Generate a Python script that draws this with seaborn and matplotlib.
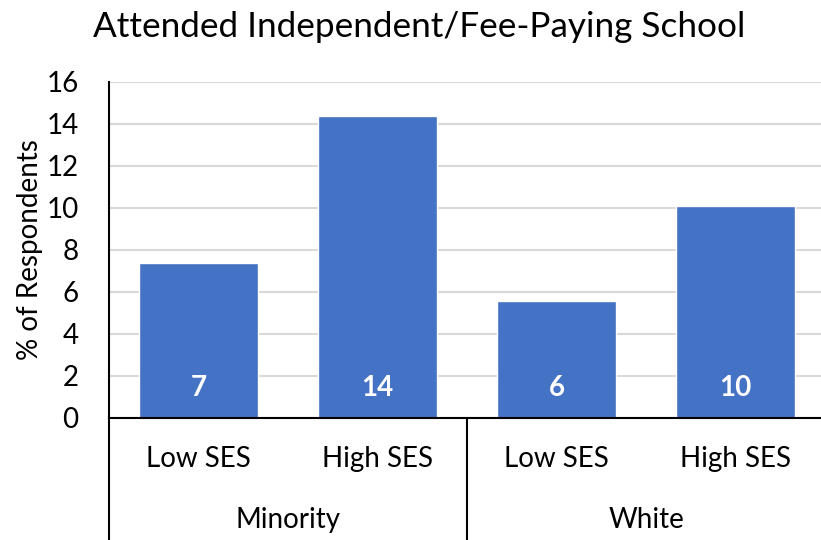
import matplotlib
matplotlib.use("Agg")
import matplotlib.pyplot as plt
import seaborn as sns
import pandas as pd

groups = ["Minority", "Minority", "White", "White"]
ses = ["Low SES", "High SES", "Low SES", "High SES"]
values = [7.37, 14.38, 5.57, 10.1]
value_labels = ["7", "14", "6", "10"]
group_names = ["Minority", "White"]
yticks = [0, 2, 4, 6, 8, 10, 12, 14, 16]
title = "Attended Independent/Fee-Paying School"
ylabel = "% of Respondents"

sns.set_style("white")
FONT = ["Lato", "DejaVu Sans"]
plt.rcParams["font.family"] = FONT
plt.rcParams["text.color"] = "black"
plt.rcParams["ytick.color"] = "black"
plt.rcParams["ytick.labelcolor"] = "black"

W, H = 821, 540
fig = plt.figure(figsize=(W / 100, H / 100), dpi=100)
ax = fig.add_axes([109 / W, (H - 418) / H, 716 / W, 336 / H])

df = pd.DataFrame({"pos": list(range(len(values))), "value": values,
                   "ses": ses, "group": groups})
sns.barplot(data=df, x="pos", y="value", color="#4472C4", width=0.665,
            saturation=1, ax=ax, native_scale=True)

ax.set_xlim(-0.5, len(values) - 0.5)
ax.set_ylim(0, 16)
ax.set_yticks(yticks)
ax.set_yticklabels([str(t) for t in yticks], fontsize=20, color="black")
ax.tick_params(axis="y", length=0, pad=22)
ax.set_xticks([])
ax.set_xlabel("")
ax.set_ylabel("")
ax.grid(axis="y", color="#D9D9D9", linewidth=1.5)
ax.set_axisbelow(True)
for s in ["top", "right"]:
    ax.spines[s].set_visible(False)
for s in ["left", "bottom"]:
    ax.spines[s].set_color("black")
    ax.spines[s].set_linewidth(1.5)

# value labels inside bars
for i, lab in enumerate(value_labels):
    ax.text(i, 1.43, lab, ha="center", va="center", color="white",
            fontsize=20, fontweight="bold")

# two-level category axis
trans = ax.get_xaxis_transform()
for i, s in enumerate(ses):
    ax.text(i, -0.122, s, transform=trans, ha="center", va="center",
            fontsize=20, color="black")
for g, name in enumerate(group_names):
    ax.text(2 * g + 0.5, -0.304, name, transform=trans, ha="center",
            va="center", fontsize=20, color="black")
for xb in [-0.5, 1.5, 3.5]:
    ax.plot([xb, xb], [0, -0.5], transform=trans, color="black",
            linewidth=1.5, clip_on=False)

fig.text(419 / W, 1 - 27 / H, title, ha="center", va="center", fontsize=25.3,
         color="black")
fig.text(30 / W, 1 - 250 / H, ylabel, ha="center", va="center",
         rotation=90, fontsize=20, color="black")

fig.savefig("out.png", dpi=100)
